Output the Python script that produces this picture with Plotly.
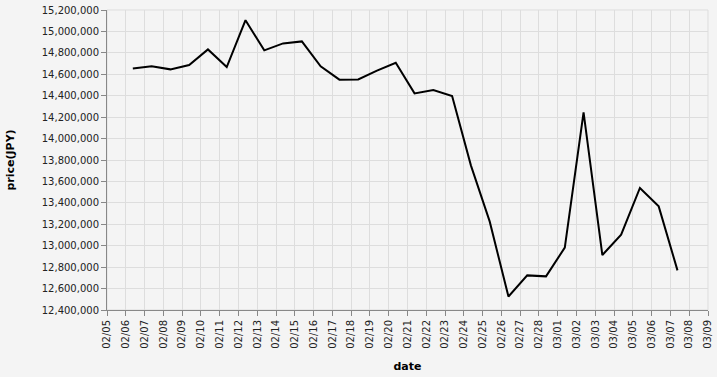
import plotly.graph_objects as go
import pandas as pd

dates = pd.date_range("2025-02-06 09:00", "2025-03-07 09:00", freq="D")
prices = [14655000, 14674000, 14646000, 14687000, 14832000, 14668000, 15105000,
          14823000, 14888000, 14907000, 14674000, 14550000, 14552000, 14634000,
          14708000, 14422000, 14453000, 14397000, 13750000, 13227000, 12525000,
          12723000, 12714000, 12982000, 14245000, 12913000, 13103000, 13539000,
          13367000, 12770000]

y_ticks = list(range(12400000, 15200001, 200000))

fig = go.Figure()
fig.add_trace(go.Scatter(x=dates, y=prices, mode="lines",
                         line=dict(color="black", width=2), showlegend=False))

font = dict(family="DejaVu Sans", size=10, color="#222")
fig.update_layout(
    width=717, height=377,
    margin=dict(l=107, r=9, t=10, b=67),
    paper_bgcolor="#f4f4f4", plot_bgcolor="#f4f4f4",
    font=font,
)
fig.update_xaxes(
    range=["2025-02-05", "2025-03-09"], automargin=False,
    dtick=86400000, tick0="2025-02-05", tickformat="%m/%d", tickangle=-90,
    showgrid=True, gridcolor="#dddddd", gridwidth=1,
    showline=True, linecolor="#888888", linewidth=1,
    ticks="outside", ticklen=5, tickcolor="#888888",
    title=dict(text="<b>date</b>", font=dict(family="DejaVu Sans", size=11, color="#000"), standoff=14),
    zeroline=False,
)
fig.update_yaxes(
    range=[12400000, 15200000], automargin=False,
    tickvals=y_ticks, tickformat=",d",
    showgrid=True, gridcolor="#dddddd", gridwidth=1,
    showline=True, linecolor="#888888", linewidth=1,
    ticks="outside", ticklen=5, tickcolor="#888888",
    title=dict(text="<b>price(JPY)</b>", font=dict(family="DejaVu Sans", size=11, color="#000"), standoff=24),
    zeroline=False,
)
fig.add_shape(type="rect", xref="paper", yref="paper", x0=0, x1=1, y0=0, y1=1,
              line=dict(color="#dddddd", width=1), layer="below")
fig.write_html("out.html")
